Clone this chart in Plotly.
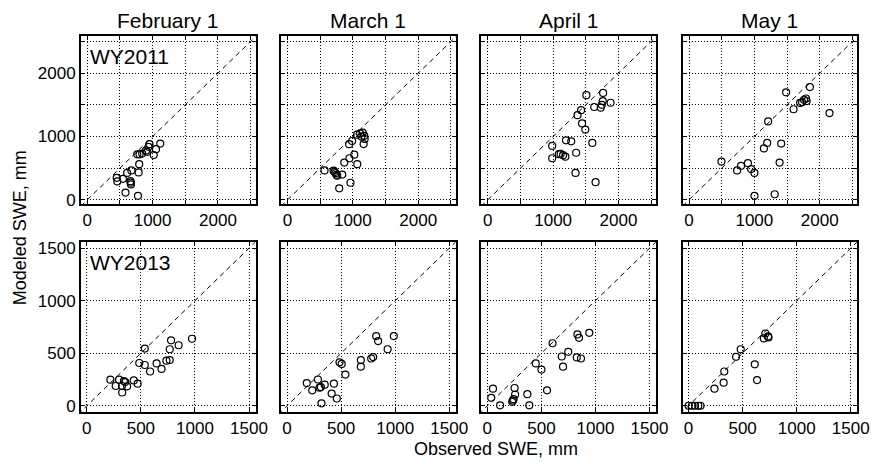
import plotly.graph_objects as go

# Observed vs modeled SWE (mm) at snow courses, by date and water year
months = ["February 1", "March 1", "April 1", "May 1"]
years = ["WY2011", "WY2013"]

feb11_obs = [450, 460, 545, 610, 675, 660, 665, 668, 585, 776, 786, 795, 765, 800, 840, 916, 937, 952, 900, 1017, 1052, 1117]
feb11_mod = [347, 290, 331, 424, 464, 294, 270, 243, 114, 62, 433, 563, 718, 718, 730, 758, 836, 878, 780, 707, 800, 888]

mar11_obs = [566, 705, 720, 735, 750, 760, 837, 791, 964, 868, 947, 1022, 1067, 943, 988, 1063, 1110, 1150, 1180, 1165, 1130, 1175]
mar11_mod = [464, 460, 440, 420, 395, 380, 398, 181, 269, 588, 656, 712, 563, 878, 929, 1028, 1050, 1060, 960, 880, 1000, 1010]

apr11_obs = [986, 986, 1087, 1115, 1152, 1187, 1197, 1277, 1352, 1343, 1373, 1428, 1443, 1493, 1509, 1600, 1650, 1629, 1729, 1745, 1765, 1880, 1760]
apr11_mod = [851, 656, 720, 725, 705, 681, 940, 924, 743, 424, 1337, 1415, 1207, 1110, 1652, 898, 279, 1466, 1455, 1500, 1688, 1533, 1560]

may11_obs = [496, 736, 796, 901, 951, 1001, 1001, 1146, 1196, 1211, 1311, 1386, 1411, 1486, 1600, 1700, 1730, 1760, 1790, 1800, 1850, 2150]
may11_mod = [604, 464, 537, 579, 486, 424, 62, 811, 898, 1238, 88, 588, 888, 1698, 1430, 1530, 1540, 1580, 1600, 1560, 1780, 1370]

feb13_obs = [218, 267, 298, 325, 327, 343, 355, 373, 434, 470, 485, 536, 536, 585, 645, 691, 736, 767, 767, 779, 849, 973]
feb13_mod = [248, 188, 248, 188, 126, 235, 225, 185, 241, 210, 407, 544, 388, 326, 403, 351, 429, 435, 538, 623, 576, 638]

mar13_obs = [182, 233, 285, 300, 312, 348, 318, 412, 433, 460, 485, 505, 539, 682, 682, 778, 796, 824, 842, 930, 987]
mar13_mod = [216, 147, 250, 172, 178, 201, 23, 116, 210, 69, 413, 398, 297, 435, 372, 450, 463, 663, 616, 538, 663]

apr13_obs = [52, 36, 118, 230, 236, 243, 252, 257, 370, 388, 448, 500, 552, 603, 688, 700, 748, 827, 866, 833, 848, 943]
apr13_mod = [163, 75, 4, 37, 50, 63, 169, 107, 110, 4, 403, 344, 147, 595, 469, 372, 513, 460, 450, 679, 647, 694]

may13_obs = [0, 30, 60, 90, 110, 239, 324, 330, 439, 482, 612, 633, 696, 710, 735, 739]
may13_mod = [0, 0, 0, 0, 0, 163, 220, 326, 466, 538, 394, 244, 641, 688, 660, 650]

panels = [
    (0, 0, feb11_obs, feb11_mod), (0, 1, mar11_obs, mar11_mod),
    (0, 2, apr11_obs, apr11_mod), (0, 3, may11_obs, may11_mod),
    (1, 0, feb13_obs, feb13_mod), (1, 1, mar13_obs, mar13_mod),
    (1, 2, apr13_obs, apr13_mod), (1, 3, may13_obs, may13_mod),
]

W, H = 888, 466
col_px = [(82, 259), (285, 462), (488, 665), (692, 869)]
row_px = [(34, 205), (244, 417)]
row_xrange = [[-98, 2575], [-55, 1560]]
row_yrange = [[-67, 2582], [-59, 1556]]
row_top = [2500, 1500]
row_major = [[0, 1000, 2000], [0, 500, 1000, 1500]]

font_main = "Liberation Sans, Arial, sans-serif"
fig = go.Figure()
layout = dict(
    width=W, height=H, margin=dict(l=0, r=0, t=0, b=0),
    paper_bgcolor="white", plot_bgcolor="white", showlegend=False,
    font=dict(family=font_main, size=17, color="black"),
)

for k, (r, c, xs, ys) in enumerate(panels):
    idx = "" if k == 0 else str(k + 1)
    xa, ya = "x" + idx, "y" + idx
    x0, x1 = col_px[c]
    y0, y1 = row_px[r]
    top = row_top[r]
    common = dict(
        showline=True, linecolor="black", linewidth=1.6, mirror="allticks",
        ticks="inside", ticklen=4, tickcolor="black", tickwidth=1,
        showgrid=True, gridcolor="black", gridwidth=1, griddash="1px,2px",
        zeroline=False, tickfont=dict(size=17),
        minor=dict(dtick=500, tick0=0, showgrid=True, gridcolor="black",
                   gridwidth=1, griddash="1px,2px", ticks="inside",
                   ticklen=4, tickcolor="black"),
    )
    layout["xaxis" + idx] = dict(
        common, domain=[x0 / W, x1 / W], range=row_xrange[r],
        tickvals=row_major[r], anchor=ya,
    )
    layout["yaxis" + idx] = dict(
        common, domain=[1 - y1 / H, 1 - y0 / H], range=row_yrange[r],
        tickvals=row_major[r], anchor=xa, showticklabels=(c == 0),
    )
    # 1:1 reference line
    fig.add_trace(go.Scatter(
        x=[-200, top + 200], y=[-200, top + 200], mode="lines",
        line=dict(color="black", width=1, dash="5px,4px"),
        xaxis=xa, yaxis=ya, hoverinfo="skip", cliponaxis=True,
    ))
    fig.add_trace(go.Scatter(
        x=xs, y=ys, mode="markers",
        marker=dict(symbol="circle-open", size=7, color="black",
                    line=dict(width=1.2, color="black")),
        xaxis=xa, yaxis=ya, cliponaxis=False,
    ))

fig.update_layout(**layout)

annotations = []
for c, m in enumerate(months):
    x0, x1 = col_px[c]
    annotations.append(dict(
        text=m, x=(x0 + x1) / 2 / W, y=1 - 18 / H, xref="paper", yref="paper",
        showarrow=False, xanchor="center", yanchor="middle",
        font=dict(size=21, family=font_main),
    ))
for r, yr in enumerate(years):
    y0 = row_px[r][0]
    annotations.append(dict(
        text=yr, x=89 / W, y=1 - (y0 + 21) / H, xref="paper", yref="paper",
        showarrow=False, xanchor="left", yanchor="middle",
        font=dict(size=21, family=font_main),
    ))
annotations.append(dict(
    text="Observed SWE, mm", x=503 / W, y=1 - 455 / H, xref="paper", yref="paper",
    showarrow=False, xanchor="center", yanchor="middle",
    font=dict(size=18, family=font_main),
))
annotations.append(dict(
    text="Modeled SWE, mm", x=20 / W, y=1 - 229 / H, xref="paper", yref="paper",
    showarrow=False, xanchor="center", yanchor="middle", textangle=-90,
    font=dict(size=18, family=font_main),
))
fig.update_layout(annotations=annotations)

fig.write_html("out.html")
